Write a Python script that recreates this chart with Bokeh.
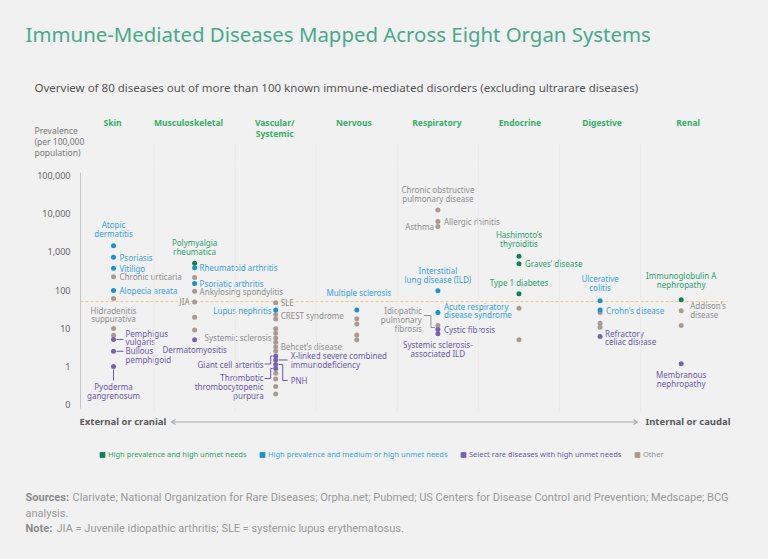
import math
from bokeh.plotting import figure
from bokeh.layouts import column
from bokeh.models import (Range1d, FixedTicker, ColumnDataSource,
                          Legend, LegendItem, Span)
from bokeh.core.properties import value
from bokeh.embed import file_html
from bokeh.resources import INLINE

FONT = "Noto Sans"
FONT_NARROW = "Roboto"

# ---------------- data ----------------
organs = ["Skin", "Musculoskeletal", "Vascular/\nSystemic", "Nervous",
          "Respiratory", "Endocrine", "Digestive", "Renal"]

group_names = ["High prevalence and high unmet needs",
               "High prevalence and medium or high unmet needs",
               "Select rare diseases with high unmet needs",
               "Other"]

tick_prevalence = [0.1, 1, 10, 100, 1000, 10000, 100000]
tick_labels = ["0", "1", "10", "100", "1,000", "10,000", "100,000"]
rare_threshold = 50

disease_names = [
    # Skin
    "Atopic dermatitis", "Psoriasis", "Vitiligo", "Chronic urticaria", "Alopecia areata",
    "Hidradenitis suppurativa", "", "", "Pemphigus vulgaris", "Bullous pemphigoid",
    "Pyoderma gangrenosum",
    # Musculoskeletal
    "Polymyalgia rheumatica", "Rheumatoid arthritis", "", "Psoriatic arthritis",
    "Ankylosing spondylitis", "JIA", "", "", "Dermatomyositis",
    # Vascular / Systemic
    "SLE", "Lupus nephritis", "CREST syndrome", "", "", "", "Systemic sclerosis", "",
    "Behcet\u2019s disease", "", "Giant cell arteritis",
    "X-linked severe combined immunodeficiency", "PNH",
    "Thrombotic thrombocytopenic purpura", "", "", "", "",
    # Nervous
    "Multiple sclerosis", "", "", "", "",
    # Respiratory
    "Chronic obstructive pulmonary disease", "Allergic rhinitis", "Asthma",
    "Interstitial lung disease (ILD)", "Acute respiratory disease syndrome",
    "Idiopathic pulmonary fibrosis", "Cystic fibrosis", "Systemic sclerosis-associated ILD",
    # Endocrine
    "Hashimoto\u2019s thyroiditis", "Graves\u2019 disease", "Type 1 diabetes", "", "",
    # Digestive
    "Ulcerative colitis", "Crohn\u2019s disease", "", "", "", "Refractory celiac disease",
    # Renal
    "Immunoglobulin A nephropathy", "Addison\u2019s disease", "", "Membranous nephropathy",
]
disease_organ = (
    [0] * 11 + [1] * 9 + [2] * 18 + [3] * 5 + [4] * 8 + [5] * 5 + [6] * 6 + [7] * 4
)
disease_prevalence = [
    1450, 720, 375, 225, 98, 60, 9.9, 6.6, 5.1, 2.5, 1.0,
    505, 383, 214, 149, 93, 49, 19.5, 9, 5,
    47, 30, 23, 17.5, 9.7, 7.4, 5.6, 4.3, 3.3, 2.55, 1.88, 1.48, 1.13, 0.89, 0.66, 0.47, 0.30, 0.19,
    30, 17.7, 13, 6.7, 5,
    12600, 6300, 4600, 96, 26, 11.8, 9.3, 7.2,
    770, 490, 80, 33.6, 5,
    53, 30, 26, 13.6, 10.7, 6.1,
    56, 29, 11.8, 1.18,
]
disease_group = [
    1, 1, 1, 3, 1, 3, 3, 3, 2, 2, 2,
    0, 1, 3, 1, 3, 3, 3, 3, 2,
    3, 1, 3, 3, 3, 3, 3, 3, 3, 3, 2, 2, 2, 2, 3, 3, 3, 3,
    1, 3, 3, 3, 3,
    3, 3, 3, 1, 1, 3, 2, 2,
    0, 0, 0, 3, 3,
    1, 1, 3, 3, 3, 2,
    0, 3, 3, 2,
]

# ---------------- styles ----------------
BG = "#f1f1f1"
dot_colors = ["#10805a", "#1793d2", "#7663ae", "#aa9a93"]
text_colors = ["#2f9e6e", "#38a3da", "#6a59a7", "#8e8e8e"]
HEAD_GREEN = "#36ae69"
SEP = "#eaeaea"
ARROW = "#a9a9a9"
HEADER_NUDGE = [-1, -6, -1, -3, -1, 1, 2, 7]   # px shift of each column header

# label placement: side, x offset, y offset (screen px, y down), wrapped text
LAYOUT = {
    "Atopic dermatitis": ("a", 0, -7, "Atopic\ndermatitis"),
    "Psoriasis": ("r", 6, 0, None),
    "Vitiligo": ("r", 6, 0, None),
    "Chronic urticaria": ("r", 6, 0, None),
    "Alopecia areata": ("r", 6, 0, None),
    "Hidradenitis suppurativa": ("b", 0, 6, "Hidradenitis\nsuppurativa"),
    "Pemphigus vulgaris": ("r", 12, -2, "Pemphigus\nvulgaris"),
    "Bullous pemphigoid": ("r", 12, 4, "Bullous\npemphigoid"),
    "Pyoderma gangrenosum": ("b", 0, 15, "Pyoderma\ngangrenosum"),
    "Polymyalgia rheumatica": ("a", 0, -6, "Polymyalgia\nrheumatica"),
    "Rheumatoid arthritis": ("r", 5, 0, None),
    "Psoriatic arthritis": ("r", 5, 0, None),
    "Ankylosing spondylitis": ("r", 5, 0, None),
    "JIA": ("l", -5, 0, None),
    "Dermatomyositis": ("b", 0, 4, None),
    "SLE": ("r", 5, 0, None),
    "Lupus nephritis": ("l", -4, 0, None),
    "CREST syndrome": ("r", 5, 1, None),
    "Systemic sclerosis": ("l", -4, 0, None),
    "Behcet\u2019s disease": ("r", 5, 0, None),
    "Giant cell arteritis": ("l", -12, 8, None),
    "X-linked severe combined immunodeficiency": ("r", 15, 0, "X-linked severe combined\nimmunodeficiency"),
    "PNH": ("r", 15, 16, None),
    "Thrombotic thrombocytopenic purpura": ("l", -12, 18, "Thrombotic\nthrombocytopenic\npurpura"),
    "Multiple sclerosis": ("a", 2, -12, None),
    "Chronic obstructive pulmonary disease": ("a", 0, -6, "Chronic obstructive\npulmonary disease"),
    "Allergic rhinitis": ("r", 6, 0, None),
    "Asthma": ("l", -4, 0, None),
    "Interstitial lung disease (ILD)": ("a", 0, -6, "Interstitial\nlung disease (ILD)"),
    "Acute respiratory disease syndrome": ("r", 6, -2, "Acute respiratory\ndisease syndrome"),
    "Idiopathic pulmonary fibrosis": ("l", -16, -6, "Idiopathic\npulmonary\nfibrosis"),
    "Cystic fibrosis": ("r", 6, 0, None),
    "Systemic sclerosis-associated ILD": ("b", 0, 5, "Systemic sclerosis-\nassociated ILD"),
    "Hashimoto\u2019s thyroiditis": ("a", 0, -7, "Hashimoto\u2019s\nthyroiditis"),
    "Graves\u2019 disease": ("r", 6, 0, None),
    "Type 1 diabetes": ("a", 0, -6, None),
    "Ulcerative colitis": ("a", 0, -8, "Ulcerative\ncolitis"),
    "Crohn\u2019s disease": ("r", 6, 0, None),
    "Refractory celiac disease": ("r", 5, 1, "Refractory\nceliac disease"),
    "Immunoglobulin A nephropathy": ("a", 0, -10, "Immunoglobulin A\nnephropathy"),
    "Addison\u2019s disease": ("r", 9, -1, "Addison\u2019s\ndisease"),
    "Membranous nephropathy": ("b", 0, 5, "Membranous\nnephropathy"),
}

# leader lines, screen px offsets from the dot (y down)
LEADERS = {
    "Pemphigus vulgaris": [(3, 0), (10, 0)],
    "Bullous pemphigoid": [(3, 0), (10, 0)],
    "Pyoderma gangrenosum": [(0, 3), (0, 14)],
    "Giant cell arteritis": [(-11, 8), (-5, 8), (-5, 0), (-3, 0)],
    "Thrombotic thrombocytopenic purpura": [(-11, 10), (-5, 10), (-5, 0), (-3, 0)],
    "X-linked severe combined immunodeficiency": [(3, 0), (12, 0)],
    "PNH": [(3, 0), (7, 0), (7, 16), (12, 16)],
    "Idiopathic pulmonary fibrosis": [(-14, -10), (-7, -10), (-7, 2), (-3, 2)],
}

# ---------------- geometry ----------------
W = 760
TOP_H, MAIN_H, BOT_H = 165, 247, 139
ML = 80
X0, X1 = -0.407, 7.978          # column index range of the main frame
Y0, Y1 = -1.205, 5.263          # log10 prevalence range of the main frame
AXIS_BOUNDS = (-1.10, 5.08)
PXX = (W - ML) / (X1 - X0)
PXY = MAIN_H / (Y1 - Y0)


def base_fig(h, xr, yr, **kw):
    f = figure(width=W, height=h, output_backend="svg", toolbar_location=None,
               x_range=xr, y_range=yr, background_fill_color=BG, border_fill_color=BG,
               outline_line_color=None, **kw)
    f.frame_align = False
    f.xgrid.visible = False
    f.ygrid.visible = False
    return f


def txt(f, x, y, t, size, color, align="left", baseline="middle", bold=False,
        lh=1.0, font=FONT, **kw):
    f.text(x=[x], y=[y], text=[t], text_font=value(font), text_font_size=size,
           text_color=color, text_align=align, text_baseline=baseline,
           text_font_style="bold" if bold else "normal", text_line_height=lh, **kw)


# ---------------- top: titles and column headers ----------------
top = base_fig(TOP_H, Range1d(0, W), Range1d(TOP_H, 0),
               x_axis_location=None, y_axis_location=None,
               min_border_left=0, min_border_right=0, min_border_top=0, min_border_bottom=0)
top.extra_x_ranges = {"cols": Range1d(X0 - ML / PXX, X1)}

txt(top, 25, 33, "Immune-Mediated Diseases Mapped Across Eight Organ Systems", "20.4px", "#48a98b")
txt(top, 34, 87, "Overview of 80 diseases out of more than 100 known immune-mediated disorders "
                 "(excluding ultrarare diseases)", "11.5px", "#555555")
txt(top, 34, 124, "Prevalence\n(per 100,000\npopulation)", "8.5px", "#777777", baseline="top")

top.text(x=list(range(len(organs))), y=[116] * len(organs), text=organs, x_range_name="cols",
         x_offset=HEADER_NUDGE,
         text_font=value(FONT), text_font_size="8.5px", text_font_style="bold",
         text_color=HEAD_GREEN, text_align="center", text_baseline="top", text_line_height=1.0)
for i in range(len(organs) - 1):
    top.segment(x0=[i + 0.5], y0=[143], x1=[i + 0.5], y1=[TOP_H], x_range_name="cols",
                line_color=SEP, line_width=1)

# ---------------- main plot ----------------
p = base_fig(MAIN_H, Range1d(X0, X1), Range1d(Y0, Y1),
             x_axis_location=None, y_axis_location="left",
             min_border_left=ML, min_border_right=0, min_border_top=0, min_border_bottom=0)

ax = p.yaxis[0]
tick_pos = [round(math.log10(v)) for v in tick_prevalence]
ax.ticker = FixedTicker(ticks=tick_pos)
ax.major_label_overrides = {t: l for t, l in zip(tick_pos, tick_labels)}
ax.bounds = AXIS_BOUNDS
ax.axis_line_color = "#c6c6c6"
ax.major_tick_line_color = None
ax.minor_tick_line_color = None
ax.major_tick_in = 0
ax.major_tick_out = 0
ax.major_label_standoff = 10
ax.major_label_text_font = FONT
ax.major_label_text_font_size = "9px"
ax.major_label_text_color = "#666666"

for i in range(len(organs) - 1):
    p.add_layout(Span(location=i + 0.5, dimension="height", line_color=SEP, line_width=1))

p.line(x=[X0, len(organs) - 1 + 0.57], y=[math.log10(rare_threshold)] * 2,
       line_color="#f6c572", line_width=1, line_dash="3 2")

xs = list(disease_organ)
ys = [math.log10(v) for v in disease_prevalence]
order = sorted(range(len(xs)), key=lambda k: -disease_group[k])
src = ColumnDataSource(dict(
    x=[xs[k] for k in order], y=[ys[k] for k in order],
    c=[dot_colors[disease_group[k]] for k in order]))
p.scatter("x", "y", source=src, size=5, color="c", line_color=None)

for k, name in enumerate(disease_names):
    if name in LEADERS:
        pts = LEADERS[name]
        p.line([xs[k] + dx / PXX for dx, dy in pts], [ys[k] - dy / PXY for dx, dy in pts],
               line_color=text_colors[disease_group[k]], line_width=1)

SIDES = {"a": ("center", "bottom"), "b": ("center", "top"),
         "r": ("left", "middle"), "l": ("right", "middle")}
for side, (al, bl) in SIDES.items():
    d = dict(x=[], y=[], t=[], c=[], xo=[], yo=[])
    for k, name in enumerate(disease_names):
        if name and name in LAYOUT and LAYOUT[name][0] == side:
            _, dx, dy, wrapped = LAYOUT[name]
            d["x"].append(xs[k]); d["y"].append(ys[k])
            d["t"].append(wrapped or name)
            d["c"].append(text_colors[disease_group[k]])
            d["xo"].append(dx); d["yo"].append(dy)
    p.text("x", "y", text="t", source=ColumnDataSource(d), x_offset="xo", y_offset="yo",
           text_align=al, text_baseline=bl, text_color="c",
           text_font=value(FONT), text_font_size="8px", text_line_height=0.8)

# ---------------- bottom: direction arrow, legend, sources ----------------
TOTAL_H = TOP_H + MAIN_H + BOT_H
bot = base_fig(BOT_H, Range1d(0, W), Range1d(TOTAL_H, TOP_H + MAIN_H),
               x_axis_location=None, y_axis_location=None,
               min_border_left=0, min_border_right=0, min_border_top=0, min_border_bottom=0)

txt(bot, 79, 421, "External or cranial", "9.5px", "#5a5a5a", bold=True)
txt(bot, 645, 421, "Internal or caudal", "9.5px", "#5a5a5a", bold=True)
# double-headed direction arrow
AY = 421.5
bot.segment(x0=[171], y0=[AY], x1=[637], y1=[AY], line_color=ARROW, line_width=1.2)
bot.line(x=[175, 171, 175], y=[AY - 2.5, AY, AY + 2.5], line_color=ARROW, line_width=1.2)
bot.line(x=[633, 637, 633], y=[AY - 2.5, AY, AY + 2.5], line_color=ARROW, line_width=1.2)

leg_x = [96, 256, 457, 631]
for gi, gname in enumerate(group_names):
    r = bot.scatter(x=[float("nan")], y=[float("nan")], marker="square", size=6,
                    color=dot_colors[gi])
    bot.add_layout(Legend(items=[LegendItem(label=gname, renderers=[r])],
                          location=(leg_x[gi], TOTAL_H - 454 - 7.5),
                          orientation="horizontal", glyph_width=12, glyph_height=15,
                          label_height=10, label_standoff=0, padding=0, margin=0, spacing=0,
                          label_text_font=FONT, label_text_font_size="7.5px",
                          label_text_color=text_colors[gi], border_line_color=None,
                          background_fill_alpha=0))

txt(bot, 25, 497, "Sources:", "11px", "#8c8c8c", bold=True, font=FONT_NARROW)
txt(bot, 72, 497, "Clarivate; National Organization for Rare Diseases; Orpha.net; Pubmed; US Centers "
                  "for Disease Control and Prevention; Medscape; BCG", "11px", "#999999",
    font=FONT_NARROW)
txt(bot, 25, 513, "analysis.", "11px", "#999999", font=FONT_NARROW)
txt(bot, 25, 528, "Note:", "11px", "#8c8c8c", bold=True, font=FONT_NARROW)
txt(bot, 56, 528, "JIA = Juvenile idiopathic arthritis; SLE = systemic lupus erythematosus.",
    "11px", "#999999", font=FONT_NARROW)

layout = column(top, p, bot, spacing=0)
html = file_html(layout, INLINE)
html = html.replace("<head>", "<head><style>body{background:#f1f1f1;}</style>", 1)
open("out.html", "w").write(html)
